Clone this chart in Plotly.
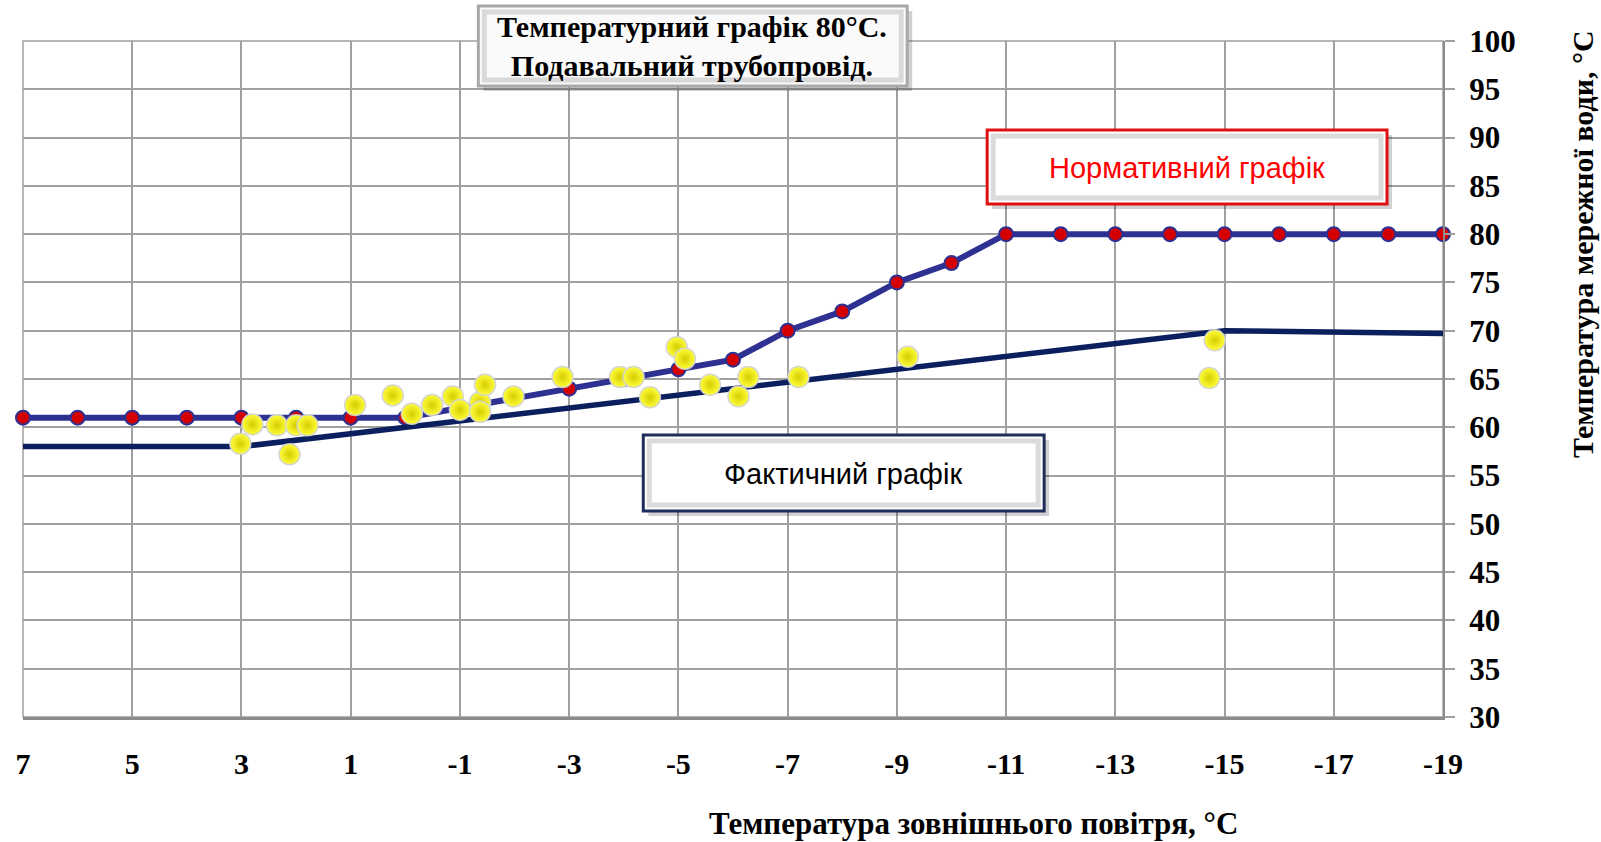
import plotly.graph_objects as go

# outdoor temperature (x) and supply water temperature (y)
norm_outdoor = list(range(7, -20, -1))
norm_supply = [61, 61, 61, 61, 61, 61, 61, 61,
               62, 63, 64, 65, 66, 67,
               70, 72, 75, 77,
               80, 80, 80, 80, 80, 80, 80, 80, 80]

fact_outdoor = [7, 3, -15, -19]
fact_supply = [58, 58, 70, 69.7]

meas_outdoor = [3.02, 2.8, 2.35, 2.0, 1.79, 2.12, 0.92, 0.23, -0.12, -0.49,
                -0.87, -1.0, -1.37, -1.37, -1.46, -1.98, -2.88, -3.93, -4.18, -4.48,
                -4.97, -5.12, -5.58, -6.1, -6.28, -7.2, -9.2, -14.82, -14.72]
meas_supply = [58.3, 60.3, 60.2, 60.2, 60.2, 57.2, 62.3, 63.3, 61.4, 62.3,
               63.2, 61.8, 62.6, 61.6, 64.4, 63.2, 65.2, 65.2, 65.2, 63.1,
               68.3, 67.1, 64.4, 63.2, 65.2, 65.2, 67.3, 69.0, 65.1]

x_ticks = list(range(7, -20, -2))
y_ticks = list(range(30, 101, 5))

W, H = 1601, 842
L, R, T, B = 22.5, 1443, 41, 717
SERIF = "Liberation Serif, Times New Roman, serif"
SANS = "Liberation Sans, Arial, sans-serif"


def px(x):
    return (x - L) / (R - L)


def py(y):
    return (B - y) / (B - T)


def box(shapes, x0, y0, x1, y1, edge, edge_w, fill="#ffffff"):
    # soft drop shadow, body, grey bevel, coloured border
    shapes.append(dict(type="rect", xref="paper", yref="paper", layer="above",
                       x0=px(x0 + 5), x1=px(x1 + 5), y0=py(y0 + 5), y1=py(y1 + 5),
                       fillcolor="rgba(0,0,0,0.18)", line=dict(width=0)))
    shapes.append(dict(type="rect", xref="paper", yref="paper", layer="above",
                       x0=px(x0), x1=px(x1), y0=py(y0), y1=py(y1),
                       fillcolor=fill, line=dict(color=edge, width=edge_w)))
    shapes.append(dict(type="rect", xref="paper", yref="paper", layer="above",
                       x0=px(x0 + 6), x1=px(x1 - 6), y0=py(y0 + 6), y1=py(y1 - 6),
                       fillcolor="rgba(0,0,0,0)", line=dict(color="rgba(195,195,195,0.6)", width=5)))


fig = go.Figure()

fig.add_trace(go.Scatter(
    x=norm_outdoor, y=norm_supply, mode="lines+markers", name="Нормативний графік",
    line=dict(color="#2e3192", width=6),
    marker=dict(size=14, color="#d40000", line=dict(color="#2e3192", width=2)),
    cliponaxis=False,
))
fig.add_trace(go.Scatter(
    x=fact_outdoor, y=fact_supply, mode="lines", name="Фактичний графік",
    line=dict(color="#0b1f5e", width=5.5),
))
fig.add_trace(go.Scatter(
    x=meas_outdoor, y=meas_supply, mode="markers", name="Виміри",
    marker=dict(size=21, color="#ffff3c",
                gradient=dict(type="radial", color="#d6cc00"),
                line=dict(color="rgba(210,210,210,0.9)", width=1.5)),
))

# frame of the plot area (top and left grid edges)
shapes = [dict(type="rect", xref="paper", yref="paper", layer="below",
               x0=0, x1=1, y0=0, y1=1, line=dict(color="#a0a0a0", width=1.5))]
box(shapes, 478, 6, 907, 86, "#a8a8a8", 3, fill="#fafafa")
box(shapes, 987, 130, 1387, 204, "#e01010", 3)
box(shapes, 643, 435, 1044, 511, "#1f2d5a", 3)

annotations = [
    dict(xref="paper", yref="paper", x=px(692), y=py(46), showarrow=False,
         xanchor="center", yanchor="middle",
         text="<b>Температурний графік 80°С.<br>Подавальний трубопровід.</b>",
         font=dict(family=SERIF, size=30, color="#000000"), align="center"),
    dict(xref="paper", yref="paper", x=px(1187), y=py(168), showarrow=False,
         xanchor="center", yanchor="middle",
         text="Нормативний графік", font=dict(family=SANS, size=29, color="#ff0000")),
    dict(xref="paper", yref="paper", x=px(843), y=py(474), showarrow=False,
         xanchor="center", yanchor="middle",
         text="Фактичний графік", font=dict(family=SANS, size=29, color="#000000")),
    dict(xref="paper", yref="paper", x=px(1582), y=py(244), showarrow=False, textangle=-90,
         xanchor="center", yanchor="middle",
         text="<b>Температура мережної води, °С</b>",
         font=dict(family=SERIF, size=30, color="#000000")),
    dict(xref="paper", yref="paper", x=px(973), y=py(823), showarrow=False,
         xanchor="center", yanchor="middle",
         text="<b>Температура зовнішнього повітря, °С</b>",
         font=dict(family=SERIF, size=31, color="#000000")),
]

fig.update_layout(
    width=W, height=H,
    margin=dict(l=L, r=W - R, t=T, b=H - B),
    paper_bgcolor="#ffffff", plot_bgcolor="#ffffff",
    showlegend=False,
    shapes=shapes, annotations=annotations,
)
fig.update_xaxes(
    range=[7, -19], tickvals=x_ticks, ticktext=[str(v) for v in x_ticks],
    showgrid=True, gridcolor="#a0a0a0", gridwidth=1.5,
    showline=True, linecolor="#8c8c8c", linewidth=3, mirror=False,
    ticks="", ticklabelstandoff=18, zeroline=False,
    tickfont=dict(family=SERIF, size=30, color="#000000", weight="bold"),
)
fig.update_yaxes(
    range=[30, 100], tickvals=y_ticks, side="right",
    showgrid=True, gridcolor="#a0a0a0", gridwidth=1.5,
    showline=True, linecolor="#8c8c8c", linewidth=2,
    ticks="outside", ticklen=10, tickcolor="#a0a0a0", tickwidth=1.5,
    ticklabelstandoff=8, zeroline=False,
    tickfont=dict(family=SERIF, size=31, color="#000000", weight="bold"),
)

fig.write_html("out.html", config={"displayModeBar": False},
               post_script="document.body.style.margin='0';document.body.style.overflow='hidden';")
